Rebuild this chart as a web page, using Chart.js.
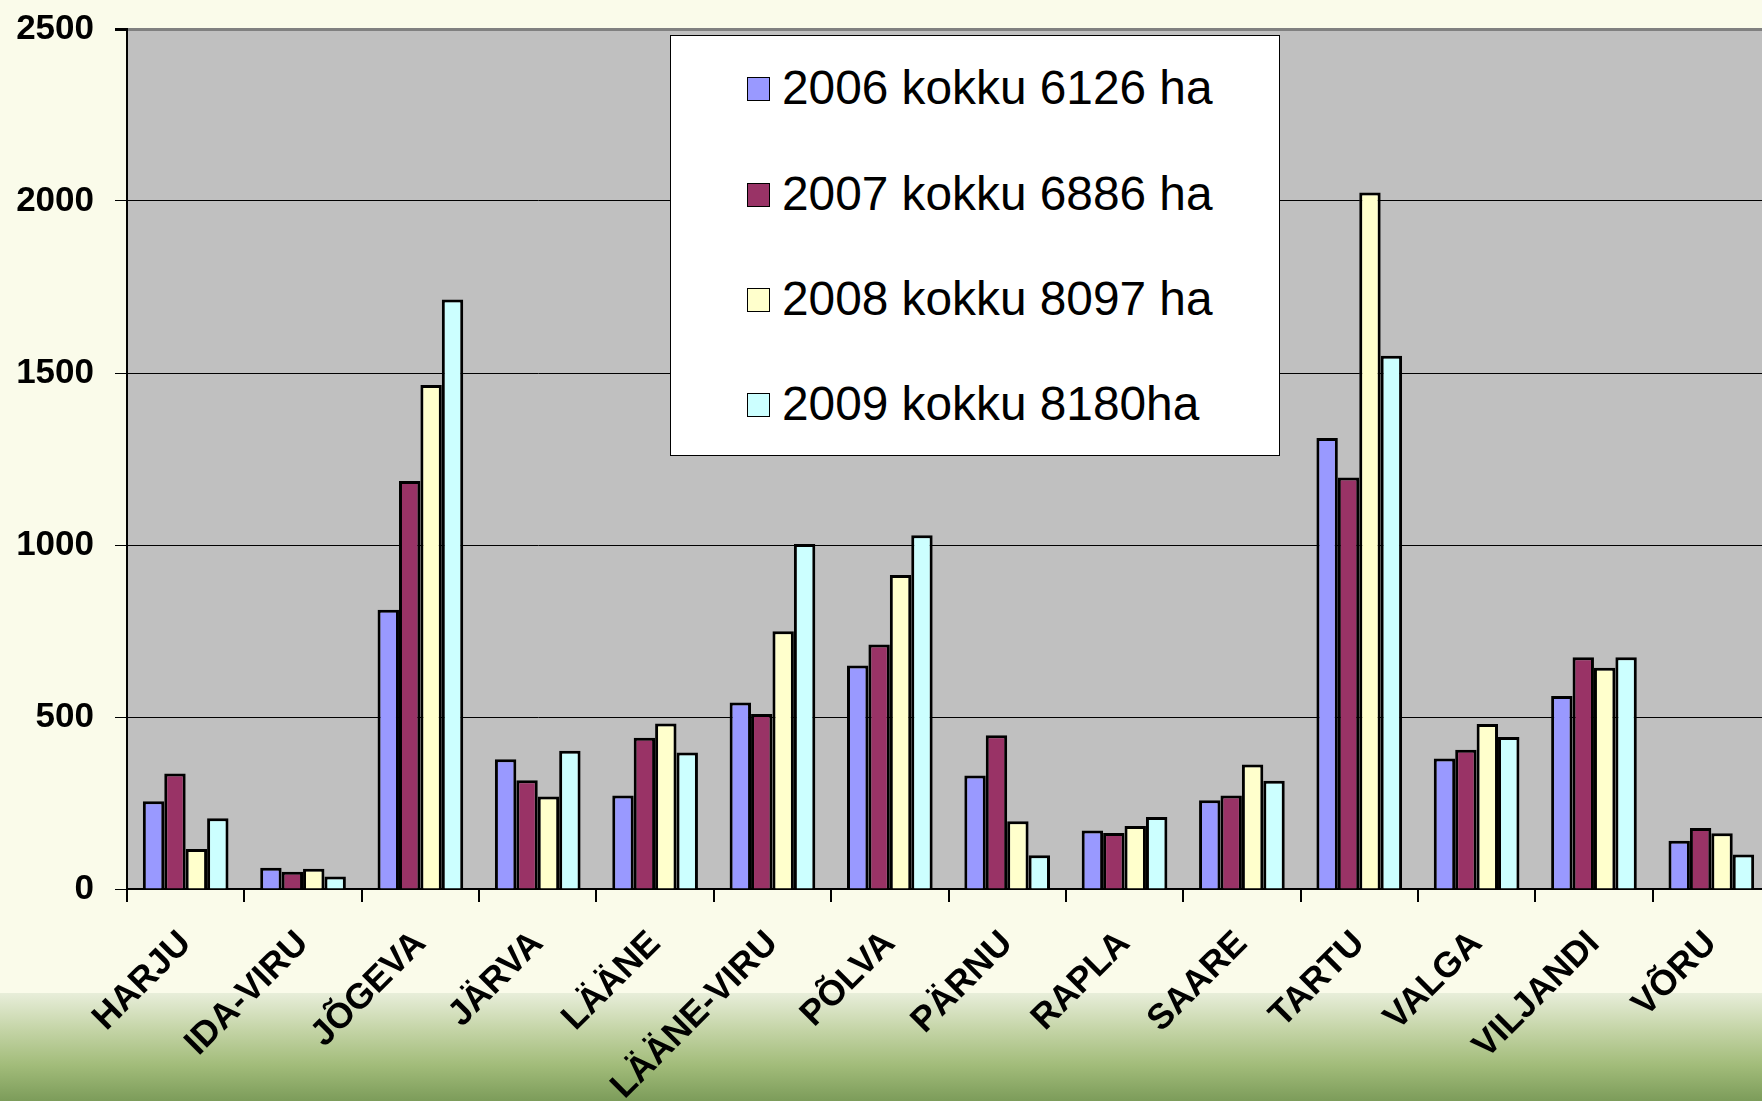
<!DOCTYPE html>
<html>
<head>
<meta charset="utf-8">
<script src="https://cdn.jsdelivr.net/npm/chart.js@4/dist/chart.umd.min.js"></script>
<style>
  html, body { margin: 0; padding: 0; }
  body {
    width: 1762px; height: 1101px; overflow: hidden; position: relative;
    background: linear-gradient(to bottom, #FAFBEA 0px, #FAFBEA 993px, #E8EEDA 993px, #C4D4A6 1030px, #A2BC7A 1065px, #7C9C5A 1101px);
    font-family: "Liberation Sans", Arial, sans-serif;
  }
  #wrap { position: absolute; left: 0; top: 0; width: 1772px; height: 1101px; }
  #legend {
    position: absolute; left: 670px; top: 35px; width: 608px; height: 419px;
    background: #FFFFFF; border: 1px solid #000; z-index: 2;
  }
  .item { position: absolute; left: 0; height: 50px; }
  .sw { position: absolute; left: 76px; width: 21px; height: 22px; border: 1.5px solid #000; }
  .lt { position: absolute; left: 111px; white-space: nowrap; font-size: 47.8px; color: #000; line-height: 50px; top: -1px; }
</style>
</head>
<body>
<div id="wrap"><canvas id="c" width="1772" height="1101"></canvas></div>
<div id="legend"></div>
<script>
const categories = ['HARJU','IDA-VIRU','JÕGEVA','JÄRVA','LÄÄNE','LÄÄNE-VIRU','PÕLVA','PÄRNU','RAPLA','SAARE','TARTU','VALGA','VILJANDI','VÕRU'];
const seriesLabels = ['2006 kokku 6126 ha','2007 kokku 6886 ha','2008 kokku 8097 ha','2009 kokku 8180ha'];
const v2006 = [255, 62, 812, 377, 272, 542, 650, 330, 170, 258, 1311, 379, 561, 140];
const v2007 = [336, 50, 1186, 316, 440, 509, 711, 447, 163, 272, 1196, 405, 674, 177];
const v2008 = [116, 59, 1465, 269, 481, 749, 913, 197, 183, 362, 2025, 480, 643, 162];
const v2009 = [206, 36, 1714, 402, 397, 1003, 1028, 98, 209, 315, 1550, 442, 674, 100];
const yTicks = [0, 500, 1000, 1500, 2000, 2500];
const colors = ['#9999FF', '#993366', '#FFFFCC', '#CCFFFF'];
const seriesValues = [v2006, v2007, v2008, v2009];

const datasets = seriesValues.map((vals, i) => ({
  label: seriesLabels[i],
  data: vals,
  backgroundColor: colors[i],
  borderColor: '#000000',
  borderWidth: 3,
  categoryPercentage: 0.73,
  barPercentage: 1.0
}));

const plotBg = {
  id: 'plotBg',
  beforeDraw(chart) {
    const a = chart.chartArea, ctx = chart.ctx;
    ctx.save();
    ctx.fillStyle = '#C0C0C0';
    ctx.fillRect(a.left, a.top, a.right - a.left, a.bottom - a.top);
    ctx.restore();
  }
};

new Chart(document.getElementById('c'), {
  type: 'bar',
  data: { labels: categories, datasets },
  plugins: [plotBg],
  options: {
    responsive: false,
    animation: false,
    layout: { padding: { top: 29, left: 0, right: 2, bottom: 0 } },
    plugins: { legend: { display: false }, tooltip: { enabled: false } },
    scales: {
      x: {
        offset: true,
        grid: { display: true, offset: true, drawOnChartArea: false, drawTicks: true, tickLength: 13, color: '#000', lineWidth: 2 },
        border: { color: '#000', width: 2 },
        ticks: {
          color: '#000', minRotation: 45, maxRotation: 45, autoSkip: false, padding: 21,
          font: { family: '"Liberation Sans", Arial, sans-serif', size: 35.5, weight: 'bold' }
        },
        afterFit(s) { s.height = 1101 - 889; s.paddingLeft = 0; s.paddingRight = 0; }
      },
      y: {
        min: 0, max: 2500,
        afterBuildTicks(s) { s.ticks = yTicks.map(v => ({ value: v })); },
        grid: {
          color: ctx => (ctx.tick && ctx.tick.value === 2500) ? '#808080' : '#000000',
          lineWidth: ctx => (ctx.tick && ctx.tick.value === 2500) ? 3 : 1,
          tickColor: '#000', tickLength: 12, drawTicks: true
        },
        border: { color: '#000', width: 2 },
        ticks: {
          color: '#000', padding: 21,
          callback: v => String(v),
          font: { family: '"Liberation Sans", Arial, sans-serif', size: 35, weight: 'bold' }
        },
        afterFit(s) { s.width = 127; s.paddingTop = 0; s.paddingBottom = 0; }
      }
    }
  }
});

// HTML legend built from the series
const legend = document.getElementById('legend');
const rowCenters = [53, 159, 264, 369];
seriesLabels.forEach((lab, i) => {
  const it = document.createElement('div');
  it.className = 'item';
  it.style.top = (rowCenters[i] - 25) + 'px';
  const sw = document.createElement('div');
  sw.className = 'sw';
  sw.style.background = colors[i];
  sw.style.top = '13px';
  const t = document.createElement('div');
  t.className = 'lt';
  t.textContent = lab;
  it.appendChild(sw); it.appendChild(t);
  legend.appendChild(it);
});
</script>
</body>
</html>
